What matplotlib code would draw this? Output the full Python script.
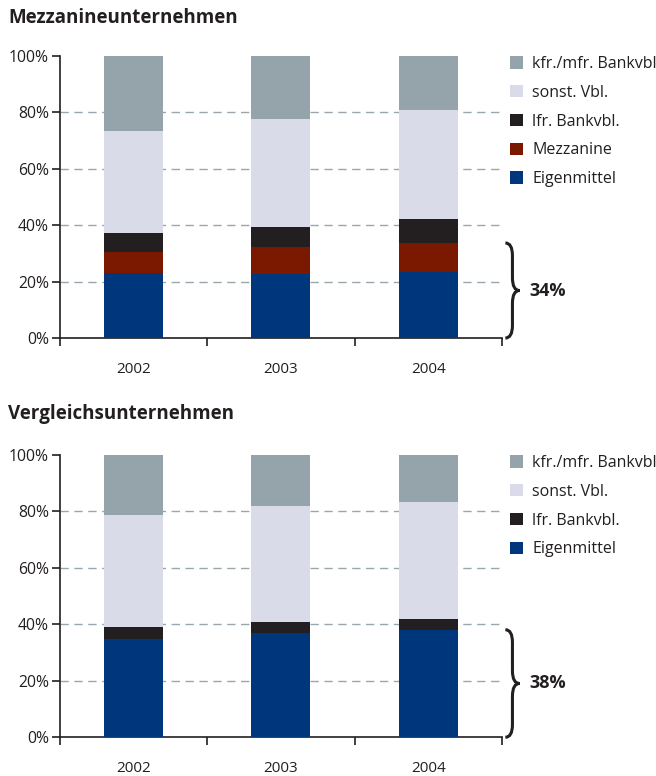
import numpy as np
import matplotlib
matplotlib.use("Agg")
import matplotlib.pyplot as plt
from matplotlib.path import Path
from matplotlib.patches import PathPatch
import matplotlib.transforms as mtransforms

plt.rcParams['font.family'] = ['Open Sans', 'DejaVu Sans']

years = ['2002', '2003', '2004']

# Mezzanineunternehmen, shares in % (bottom to top)
mez_eigen = [22.9, 22.7, 23.5]
mez_mezz = [7.6, 9.6, 10.2]
mez_lfr = [6.8, 7.1, 8.5]
mez_sonst = [36.2, 38.3, 38.7]
mez_kfr = [26.5, 22.3, 19.1]

# Vergleichsunternehmen
ver_eigen = [34.8, 36.9, 38.1]
ver_lfr = [4.3, 3.9, 3.8]
ver_sonst = [39.6, 41.1, 41.4]
ver_kfr = [21.3, 18.1, 16.7]

mez_brace_label = '34%'
ver_brace_label = '38%'

colors = {
    'Eigenmittel': '#00367c',
    'Mezzanine': '#7b1800',
    'lfr. Bankvbl.': '#231f20',
    'sonst. Vbl.': '#d9dbe9',
    'kfr./mfr. Bankvbl': '#95a3ab',
}

dark = '#231f20'


def draw_brace(ax, top, x0=1.008, w=0.032, r=4.5):
    trans = mtransforms.blended_transform_factory(ax.transAxes, ax.transData)
    bottom = 0
    mid = (top + bottom) / 2
    xm = x0 + w * 0.5
    verts = [
        (x0, top), (xm, top), (xm, top - r),
        (xm, mid + r),
        (xm, mid), (x0 + w, mid),
        (xm, mid), (xm, mid - r),
        (xm, bottom + r),
        (xm, bottom), (x0, bottom),
    ]
    codes = [Path.MOVETO, Path.CURVE3, Path.CURVE3,
             Path.LINETO,
             Path.CURVE3, Path.CURVE3,
             Path.CURVE3, Path.CURVE3,
             Path.LINETO,
             Path.CURVE3, Path.CURVE3]
    patch = PathPatch(Path(verts, codes), transform=trans, fill=False,
                      edgecolor=dark, lw=2.2, clip_on=False)
    ax.add_patch(patch)


def draw_panel(ax, series, title, title_y, brace_top, brace_label):
    x = np.arange(len(years))
    bottom = np.zeros(len(years))
    handles = []
    for name, vals in series:
        b = ax.bar(x, vals, width=0.4, bottom=bottom, color=colors[name],
                   label=name, zorder=3)
        handles.append(b)
        bottom += np.array(vals)

    ax.set_xlim(-0.5, 2.5)
    ax.set_ylim(0, 100)
    ax.set_yticks([0, 20, 40, 60, 80, 100])
    ax.set_yticklabels([f'{v}%' for v in [0, 20, 40, 60, 80, 100]])
    ax.set_xticks(x)
    ax.set_xticklabels(years)
    ax.set_xticks([-0.5, 0.5, 1.5, 2.5], minor=True)
    ax.tick_params(axis='x', which='major', length=0, pad=17,
                   labelsize=11, labelcolor=dark)
    ax.tick_params(axis='x', which='minor', length=6, width=1.2,
                   color=dark, direction='out')
    ax.tick_params(axis='y', length=6, width=1.2, color=dark,
                   labelsize=11.3, labelcolor=dark, pad=2)
    for s in ['top', 'right']:
        ax.spines[s].set_visible(False)
    for s in ['left', 'bottom']:
        ax.spines[s].set_color(dark)
        ax.spines[s].set_linewidth(1.2)

    for v in [20, 40, 60, 80]:
        ax.axhline(v, color='#9aa6ae', lw=1.0, ls=(0, (6, 4)), zorder=1)

    fig.text(8 / 656, title_y, title, ha='left', va='center', fontsize=13.5,
             fontweight='bold', color=dark)

    leg = ax.legend(handles[::-1], [s[0] for s in series][::-1],
                    loc='upper left', bbox_to_anchor=(1.018, 1.0),
                    frameon=False, fontsize=11.5, handlelength=0.8,
                    handleheight=0.8, handletextpad=0.6, labelspacing=0.8,
                    borderaxespad=0, borderpad=0)
    for t in leg.get_texts():
        t.set_color(dark)

    draw_brace(ax, brace_top)
    ax.text(1.063, brace_top / 2, brace_label,
            transform=mtransforms.blended_transform_factory(ax.transAxes, ax.transData),
            ha='left', va='center', fontsize=13, fontweight='bold', color=dark)


fig = plt.figure(figsize=(6.56, 7.76), dpi=100)
ax1 = fig.add_axes([0.0915, 0.5644, 0.6735, 0.3634])
ax2 = fig.add_axes([0.0915, 0.0499, 0.6735, 0.3638])

draw_panel(ax1, [('Eigenmittel', mez_eigen), ('Mezzanine', mez_mezz),
                 ('lfr. Bankvbl.', mez_lfr), ('sonst. Vbl.', mez_sonst),
                 ('kfr./mfr. Bankvbl', mez_kfr)],
           'Mezzanineunternehmen', 1 - 18 / 776,
           mez_eigen[2] + mez_mezz[2], mez_brace_label)
draw_panel(ax2, [('Eigenmittel', ver_eigen), ('lfr. Bankvbl.', ver_lfr),
                 ('sonst. Vbl.', ver_sonst), ('kfr./mfr. Bankvbl', ver_kfr)],
           'Vergleichsunternehmen', 1 - 414 / 776,
           ver_eigen[2], ver_brace_label)

fig.savefig('out.png', dpi=100)
